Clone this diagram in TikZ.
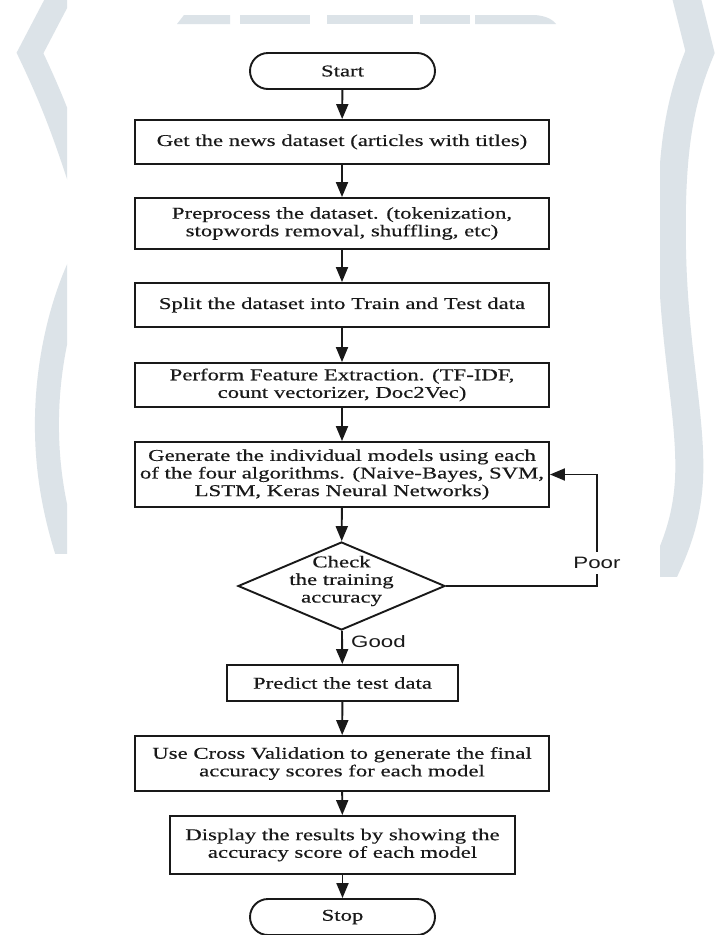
\documentclass[tikz,border=0pt]{standalone}
\usepackage{fontspec}
\setmainfont[FakeStretch=1.38,FakeBold=0.4]{Liberation Serif}
\newfontfamily\labfont[FakeStretch=1.35]{Liberation Sans}
\usetikzlibrary{arrows.meta,shapes.geometric,shapes.misc}
\definecolor{wm}{RGB}{220,227,232}
\definecolor{ink}{RGB}{25,25,25}
\begin{document}
\begin{tikzpicture}[x=1pt,y=-1pt,
  txt/.style={font=\fontsize{16.5}{17.6}\selectfont, text=ink, align=center},
  proc/.style={txt, draw=ink, line width=1.9pt, rectangle, inner sep=0pt},
  term/.style={txt, draw=ink, line width=1.9pt, rounded rectangle, inner sep=0pt,
               minimum width=185pt, minimum height=36pt},
  dec/.style={draw=ink, line width=1.9pt, diamond, inner sep=0pt,
              minimum width=207pt, minimum height=88pt},
  arr/.style={draw=ink, line width=1.9pt, -{Triangle[length=15pt,width=12pt]}},
  lab/.style={font={\labfont\fontsize{16.5}{18}\selectfont}, text=ink}]
\useasboundingbox (0,0) rectangle (715,935);
\fill[white] (0,0) rectangle (715,935);
% watermark (left)
\begin{scope}
  \clip (0,0) rectangle (67,553);
  \draw[wm, line width=24pt] (64,-12) -- (30,53) .. controls (50,95) and (62,125) .. (80,180);
  \draw[wm, line width=24pt] (90,245) .. controls (62,295) and (48,360) .. (47,417)
        .. controls (46,470) and (55,520) .. (75,575);
\end{scope}
% watermark (right)
\begin{scope}
  \clip (660,0) rectangle (715,576);
  \draw[wm, line width=28pt] (684,-12) -- (700,52) .. controls (680,100) and (670,150) .. (672,250)
        .. controls (674,350) and (692,420) .. (689,480) .. controls (686,530) and (670,560) .. (650,600);
\end{scope}
% watermark (top)
\fill[wm] (177,24) -- (184,15) -- (230,15) -- (230,24) -- cycle;
\fill[wm] (240,15) rectangle (310,24);
\fill[wm] (327,15) rectangle (413,24);
\fill[wm] (420,15) rectangle (470,24);
\fill[wm] (475,15) -- (535,15) .. controls (547,16) and (553,20) .. (556,24) -- (475,24) -- cycle;

% flowchart
\node[term] (start) at (342.5,71) {Start};
\node[proc, minimum width=414pt, minimum height=44pt] (get) at (342,142)
  {Get the news dataset (articles with titles)};
\node[proc, minimum width=414pt, minimum height=51pt] (pre) at (342,223.5)
  {Preprocess the dataset. (tokenization,\\ stopwords removal, shuffling, etc)};
\node[proc, minimum width=414pt, minimum height=44pt] (split) at (342,305)
  {Split the dataset into Train and Test data};
\node[proc, minimum width=414pt, minimum height=44pt] (feat) at (342,385)
  {Perform Feature Extraction. (TF-IDF,\\ count vectorizer, Doc2Vec)};
\node[proc, minimum width=414pt, minimum height=65pt] (gen) at (342,474.5)
  {Generate the individual models using each\\ of the four algorithms. (Naive-Bayes, SVM,\\ LSTM, Keras Neural Networks)};
\node[dec] (check) at (341.5,586) {};
\node[txt] (checkt) at (341.5,581) {Check\\ the training\\ accuracy};
\node[proc, minimum width=231pt, minimum height=36pt] (pred) at (342.5,683)
  {Predict the test data};
\node[proc, minimum width=414pt, minimum height=55pt] (cv) at (342,763.5)
  {Use Cross Validation to generate the final\\ accuracy scores for each model};
\node[proc, minimum width=345pt, minimum height=58pt] (disp) at (342.5,845)
  {Display the results by showing the\\ accuracy score of each model};
\node[term] (stop) at (342.5,917) {Stop};

\draw[arr] (start) -- (get);
\draw[arr] (get) -- (pre);
\draw[arr] (pre) -- (split);
\draw[arr] (split) -- (feat);
\draw[arr] (feat) -- (gen);
\draw[arr] (gen) -- (check);
\draw[arr] (check) -- (pred);
\draw[arr] (pred) -- (cv);
\draw[arr] (cv) -- (disp);
\draw[arr] (disp) -- (stop);

\coordinate (loop) at (597,530);
\draw[arr] (check.east) -| (loop) |- (gen.east);
\node[lab, fill=white, inner xsep=1pt, inner ysep=5pt] (poor) at (597,563) {Poor};
\node[lab, anchor=west, inner sep=0pt] (good) at (351,642) {Good};
\end{tikzpicture}
\end{document}
